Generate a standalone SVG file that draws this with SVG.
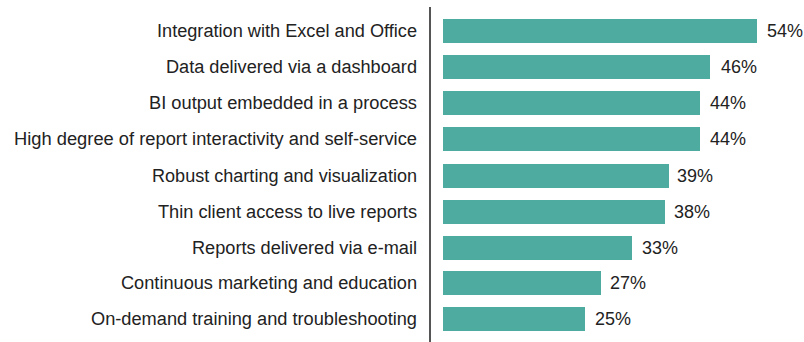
<svg xmlns="http://www.w3.org/2000/svg" width="804" height="342" viewBox="0 0 804 342">
<style>
.bar{fill:#4eab9f}
.lbl{font-family:"Liberation Sans",Arial,sans-serif;font-size:18px;fill:#222;text-anchor:end}
.val{font-family:"Liberation Sans",Arial,sans-serif;font-size:18px;fill:#222}
</style>
<rect width="804" height="342" fill="#fff"/>
<g id="axis"><line x1="430" y1="7" x2="430" y2="342" stroke="#555" stroke-width="2"/></g>
<g id="row1"><text class="lbl" x="417" y="37" textLength="260" lengthAdjust="spacingAndGlyphs">Integration with Excel and Office</text><rect class="bar" x="443" y="19" width="314" height="24"/><text class="val" x="767" y="37" textLength="36" lengthAdjust="spacingAndGlyphs">54%</text></g>
<g id="row2"><text class="lbl" x="417" y="73" textLength="251" lengthAdjust="spacingAndGlyphs">Data delivered via a dashboard</text><rect class="bar" x="443" y="55" width="267" height="24"/><text class="val" x="721" y="73" textLength="36" lengthAdjust="spacingAndGlyphs">46%</text></g>
<g id="row3"><text class="lbl" x="417" y="109" textLength="268" lengthAdjust="spacingAndGlyphs">BI output embedded in a process</text><rect class="bar" x="443" y="91" width="257" height="24"/><text class="val" x="710" y="109" textLength="36" lengthAdjust="spacingAndGlyphs">44%</text></g>
<g id="row4"><text class="lbl" x="417" y="145" textLength="403" lengthAdjust="spacingAndGlyphs">High degree of report interactivity and self-service</text><rect class="bar" x="443" y="127" width="257" height="24"/><text class="val" x="710" y="145" textLength="36" lengthAdjust="spacingAndGlyphs">44%</text></g>
<g id="row5"><text class="lbl" x="417" y="182" textLength="265" lengthAdjust="spacingAndGlyphs">Robust charting and visualization</text><rect class="bar" x="443" y="164" width="226" height="24"/><text class="val" x="677" y="182" textLength="36" lengthAdjust="spacingAndGlyphs">39%</text></g>
<g id="row6"><text class="lbl" x="417" y="218" textLength="259" lengthAdjust="spacingAndGlyphs">Thin client access to live reports</text><rect class="bar" x="443" y="200" width="222" height="24"/><text class="val" x="674" y="218" textLength="36" lengthAdjust="spacingAndGlyphs">38%</text></g>
<g id="row7"><text class="lbl" x="417" y="254" textLength="225" lengthAdjust="spacingAndGlyphs">Reports delivered via e-mail</text><rect class="bar" x="443" y="236" width="189" height="24"/><text class="val" x="642" y="254" textLength="36" lengthAdjust="spacingAndGlyphs">33%</text></g>
<g id="row8"><text class="lbl" x="417" y="289" textLength="296" lengthAdjust="spacingAndGlyphs">Continuous marketing and education</text><rect class="bar" x="443" y="271" width="158" height="24"/><text class="val" x="610" y="289" textLength="36" lengthAdjust="spacingAndGlyphs">27%</text></g>
<g id="row9"><text class="lbl" x="417" y="325" textLength="326" lengthAdjust="spacingAndGlyphs">On-demand training and troubleshooting</text><rect class="bar" x="443" y="307" width="142" height="24"/><text class="val" x="595" y="325" textLength="36" lengthAdjust="spacingAndGlyphs">25%</text></g>
</svg>
